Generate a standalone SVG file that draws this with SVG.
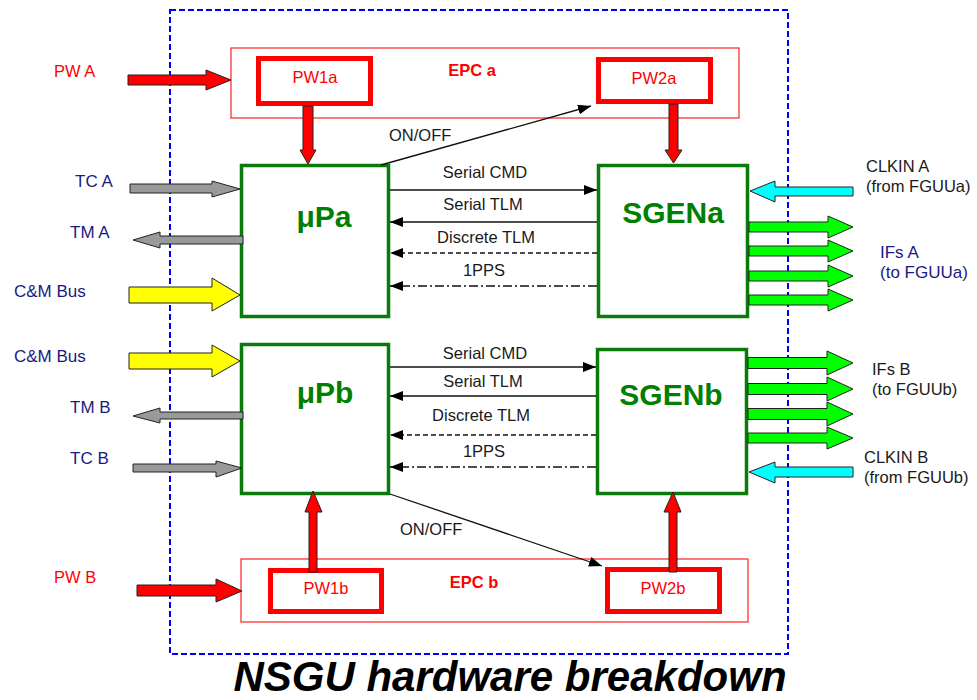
<svg xmlns="http://www.w3.org/2000/svg" width="977" height="700" viewBox="0 0 977 700">
<style>
text{font-family:"Liberation Sans",Arial,sans-serif;}
.lbl{font-size:17px;fill:#1a1a80;}
.blk{font-size:16.5px;fill:#1a1a1a;}
.red{font-size:16.5px;fill:#ff0000;}
.redb{font-size:16.5px;fill:#ff0000;font-weight:bold;}
.big{font-size:30px;font-weight:bold;fill:#007f00;}
.mid{text-anchor:middle;}
.epc{fill:none;stroke:#ff2020;stroke-width:1.2;}
.pw{fill:#fff;stroke:#ff0000;stroke-width:5;}
.blkbox{fill:#fff;stroke:#0a7a0a;stroke-width:3.5;}
.ar{stroke:#222;stroke-width:1;stroke-linejoin:miter;}
.ln{stroke:#111;stroke-width:1.3;fill:none;marker-end:url(#ah);}
</style>
<defs>
<marker id="ah" markerWidth="13" markerHeight="10" refX="13" refY="5" orient="auto" markerUnits="userSpaceOnUse"><path d="M0,0 L13,5 L0,10 z" fill="#000"/></marker>
</defs>
<rect width="977" height="700" fill="#fff"/>
<rect x="170" y="10" width="618" height="644" fill="none" stroke="#0000ff" stroke-width="2" stroke-dasharray="6,3"/>

<g id="epca"><rect class="epc" x="231" y="48" width="508" height="70"/><text class="redb mid" x="472" y="76">EPC a</text></g>
<g id="pw1a"><rect class="pw" x="258.5" y="58.5" width="112" height="45"/><text class="red mid" x="315" y="83">PW1a</text></g>
<g id="pw2a"><rect class="pw" x="598.5" y="59.5" width="112" height="42"/><text class="red mid" x="654" y="84">PW2a</text></g>
<g id="epcb"><rect class="epc" x="241" y="559" width="507" height="63"/><text class="redb mid" x="474" y="588">EPC b</text></g>
<g id="pw1b"><rect class="pw" x="270.5" y="570.5" width="111" height="41"/><text class="red mid" x="326" y="594">PW1b</text></g>
<g id="pw2b"><rect class="pw" x="607.5" y="569.5" width="112" height="42"/><text class="red mid" x="663" y="594">PW2b</text></g>

<g id="upa"><rect class="blkbox" x="241.5" y="165.5" width="147" height="151"/><text class="big mid" x="324" y="227">μPa</text></g>
<g id="sgena"><rect class="blkbox" x="598.5" y="165.5" width="149" height="151"/><text class="big mid" x="673" y="223">SGENa</text></g>
<g id="upb"><rect class="blkbox" x="241.5" y="344.5" width="147" height="149"/><text class="big mid" x="325" y="403">μPb</text></g>
<g id="sgenb"><rect class="blkbox" x="597.5" y="349.5" width="149" height="144"/><text class="big mid" x="671" y="405">SGENb</text></g>

<g id="connectors">
<polygon class="ar" fill="#ff0000" points="128,75 206,75 206,70 231,80 206,90 206,85 128,85"/>
<polygon class="ar" fill="#ff0000" points="303,106 313,106 313,150 316,150 308,164 300,150 303,150"/>
<polygon class="ar" fill="#ff0000" points="669,104 678,104 678,150 682,150 673.5,163 665,150 669,150"/>
<polygon class="ar" fill="#ff0000" points="309,572 317,572 317,512 322,512 313,491 305,512 309,512"/>
<polygon class="ar" fill="#ff0000" points="669,572 677,572 677,512 681,512 673,492 664,512 669,512"/>
<polygon class="ar" fill="#ff0000" points="137,585 216,585 216,579 242,591 216,602 216,596 137,596"/>

<polygon class="ar" fill="#999" points="130,184 212,184 212,181 240,189 212,197 212,193 130,193"/>
<polygon class="ar" fill="#999" points="243,236 160,236 160,232 133,240 160,248 160,244 243,244"/>
<polygon class="ar" fill="#ffff00" points="129,287 212,287 212,278 240,295 212,311 212,303 129,303"/>
<polygon class="ar" fill="#ffff00" points="129,353 212,353 212,345 240,361 212,377 212,369 129,369"/>
<polygon class="ar" fill="#999" points="243,412 160,412 160,408 133,416 160,423 160,419 243,419"/>
<polygon class="ar" fill="#999" points="133,464 216,464 216,461 242,468 216,477 216,472 133,472"/>

<polygon class="ar" fill="#00ffff" points="853,187 775,187 775,181 750,191 775,202 775,196 853,196"/>
<polygon class="ar" fill="#00ff00" points="749,222 828,222 828,216 853,227 828,238 828,232 749,232"/>
<polygon class="ar" fill="#00ff00" points="749,246 828,246 828,240 853,251 828,262 828,256 749,256"/>
<polygon class="ar" fill="#00ff00" points="749,271 828,271 828,265 853,276 828,287 828,281 749,281"/>
<polygon class="ar" fill="#00ff00" points="749,295 828,295 828,289 853,300 828,311 828,305 749,305"/>
<polygon class="ar" fill="#00ff00" points="748,357.5 827,357.5 827,351 853,363 827,375 827,368.5 748,368.5"/>
<polygon class="ar" fill="#00ff00" points="748,383.5 827,383.5 827,377 853,389 827,401 827,394.5 748,394.5"/>
<polygon class="ar" fill="#00ff00" points="748,408.5 827,408.5 827,402 853,414 827,426 827,419.5 748,419.5"/>
<polygon class="ar" fill="#00ff00" points="748,433 827,433 827,427 853,438 827,449 827,443 748,443"/>
<polygon class="ar" fill="#00ffff" points="853,467 775,467 775,462 749,472 775,483 775,477 853,477"/>

<line class="ln" x1="390" y1="190" x2="597" y2="190"/>
<line class="ln" x1="597" y1="222" x2="390" y2="222"/>
<line class="ln" x1="597" y1="253" x2="390" y2="253" stroke-dasharray="5,3"/>
<line class="ln" x1="597" y1="286" x2="390" y2="286" stroke-dasharray="9,3,2,3"/>
<line class="ln" x1="390" y1="367" x2="596" y2="367"/>
<line class="ln" x1="596" y1="396" x2="390" y2="396"/>
<line class="ln" x1="596" y1="435" x2="390" y2="435" stroke-dasharray="5,3"/>
<line class="ln" x1="596" y1="467" x2="390" y2="467" stroke-dasharray="9,3,2,3"/>
<line class="ln" x1="381" y1="165" x2="591" y2="106"/>
<line class="ln" x1="390" y1="494" x2="602" y2="566"/>
</g>

<g id="labels">
<text class="red" x="54" y="77">PW A</text>
<text class="red" x="54" y="583">PW B</text>
<text class="lbl" x="75" y="187">TC A</text>
<text class="lbl" x="70" y="238">TM A</text>
<text class="lbl" x="14" y="297">C&amp;M Bus</text>
<text class="lbl" x="14" y="362">C&amp;M Bus</text>
<text class="lbl" x="70" y="413">TM B</text>
<text class="lbl" x="70" y="464">TC B</text>
<text class="blk" x="866" y="172">CLKIN A</text>
<text class="blk" x="866" y="192">(from FGUUa)</text>
<text class="lbl" x="880" y="258">IFs A</text>
<text class="lbl" x="880" y="278">(to FGUUa)</text>
<text class="blk" x="872" y="375">IFs B</text>
<text class="blk" x="872" y="395">(to FGUUb)</text>
<text class="blk" x="864" y="463">CLKIN B</text>
<text class="blk" x="864" y="483">(from FGUUb)</text>
<text class="blk mid" x="485" y="178">Serial CMD</text>
<text class="blk mid" x="483" y="210">Serial TLM</text>
<text class="blk mid" x="486" y="243">Discrete TLM</text>
<text class="blk mid" x="484" y="276">1PPS</text>
<text class="blk mid" x="485" y="359">Serial CMD</text>
<text class="blk mid" x="483" y="387">Serial TLM</text>
<text class="blk mid" x="481" y="421">Discrete TLM</text>
<text class="blk mid" x="484" y="457">1PPS</text>
<text class="blk" x="389" y="141">ON/OFF</text>
<text class="blk" x="400" y="535">ON/OFF</text>
<text x="510" y="691" text-anchor="middle" style="font-size:42px;font-weight:bold;font-style:italic;fill:#000">NSGU hardware breakdown</text>
</g>
</svg>
